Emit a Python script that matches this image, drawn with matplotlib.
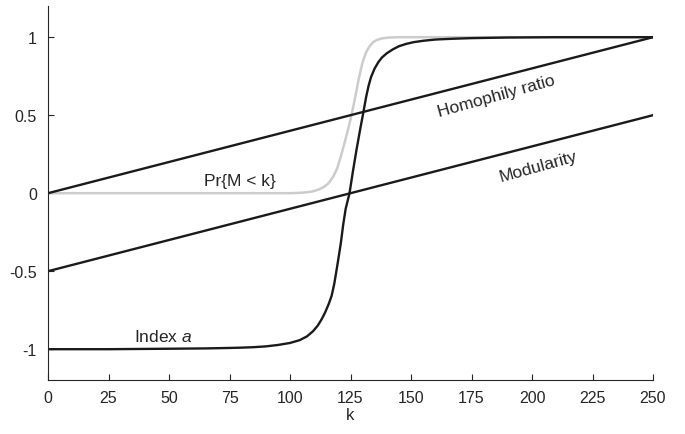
import matplotlib
matplotlib.use('Agg')
import matplotlib.pyplot as plt

plt.rcParams['font.family'] = ['Liberation Sans', 'DejaVu Sans']
plt.rcParams['mathtext.fontset'] = 'custom'
plt.rcParams['mathtext.it'] = 'Liberation Sans:italic'
plt.rcParams['mathtext.rm'] = 'Liberation Sans'
plt.rcParams['axes.unicode_minus'] = False

# values
k_lin = [0, 250]
homophily = [0, 1]
modularity = [-0.5, 0.5]

k_pr = [0, 100, 105, 108, 110, 112, 114, 116, 118, 119.5, 121, 122.5, 124,
        125.5, 127, 128.5, 130, 131.5, 133, 134.5, 136, 138, 141, 145, 250]
pr_m = [0, 0, 0.003, 0.008, 0.014, 0.025, 0.04, 0.065, 0.11, 0.16, 0.235,
        0.32, 0.41, 0.506, 0.62, 0.74, 0.84, 0.905, 0.945, 0.97, 0.983,
        0.992, 0.998, 1, 1]

k_idx = [0, 25, 50, 65, 75, 80, 85, 90, 95, 100, 104, 107, 109.5, 111.5,
         113, 114.5, 116, 117.2, 118.3, 119.3, 120.2, 121, 122, 123, 124.6,
         126, 127.5, 129, 130.3, 131.5, 132.5, 133.5, 135, 136.5, 138, 140,
         142.5, 145, 148, 151, 155, 160, 167, 175, 190, 210, 250]
index_a = [-1, -1, -0.997, -0.995, -0.992, -0.99, -0.987, -0.982, -0.973,
           -0.96, -0.942, -0.918, -0.885, -0.848, -0.81, -0.765, -0.71, -0.658,
           -0.58, -0.487, -0.40, -0.32, -0.2, -0.1, 0.0, 0.14, 0.28, 0.41,
           0.517, 0.62, 0.69, 0.745, 0.80, 0.84, 0.87, 0.897, 0.922, 0.942,
           0.957, 0.968, 0.977, 0.985, 0.99, 0.994, 0.998, 1, 1]

xticks = [0, 25, 50, 75, 100, 125, 150, 175, 200, 225, 250]
yticks = [-1, -0.5, 0, 0.5, 1]
ytick_labels = ['-1', '-0.5', '0', '0.5', '1']

txt = '#262626'
fig = plt.figure(figsize=(6.85, 4.35), dpi=100)
ax = fig.add_axes([48 / 685, 1 - 381.4 / 435, 605 / 685, 374.4 / 435])

ax.plot(k_pr, pr_m, color='#cccccc', lw=1.8)
ax.plot(k_lin, homophily, color='#1a1a1a', lw=1.7)
ax.plot(k_lin, modularity, color='#1a1a1a', lw=1.7)
ax.plot(k_idx, index_a, color='#1a1a1a', lw=1.7)

ax.set_xlim(0, 250)
ax.set_ylim(-1.2, 1.2)
ax.set_xticks(xticks)
ax.set_yticks(yticks)
ax.set_yticklabels(ytick_labels)
for s in ['top', 'right']:
    ax.spines[s].set_visible(False)
for s in ['left', 'bottom']:
    ax.spines[s].set_color(txt)
    ax.spines[s].set_linewidth(0.8)
ax.tick_params(direction='in', length=4, width=0.8, colors=txt,
               labelsize=11.5, labelcolor=txt)
ax.tick_params(axis='x', pad=7)
ax.tick_params(axis='y', pad=8)
ax.set_xlabel('k', fontsize=12, color=txt, labelpad=1)

fs = 12.5
ax.text(79.3, 0.083, 'Pr{M < k}', fontsize=fs, color=txt, ha='center', va='center')
ax.text(185.3, 0.625, 'Homophily ratio', fontsize=fs, color=txt, ha='center',
        va='center', rotation=15.5)
ax.text(202.6, 0.175, 'Modularity', fontsize=fs, color=txt, ha='center',
        va='center', rotation=15.5)
ax.text(47.5, -0.915, 'Index $a$', fontsize=fs, color=txt, ha='center', va='center')

fig.savefig('out.png', dpi=100)
